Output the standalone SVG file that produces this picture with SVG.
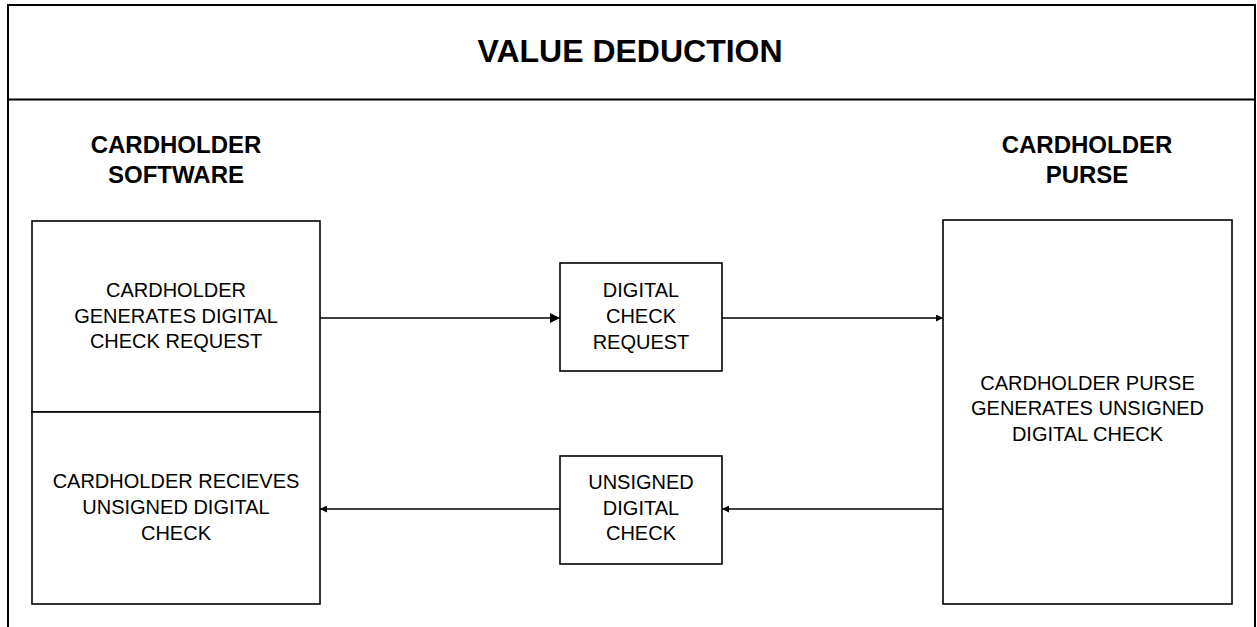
<svg xmlns="http://www.w3.org/2000/svg" width="1257" height="627" viewBox="0 0 1257 627">
<defs>
<style>
.frame{fill:none;stroke:#000;stroke-width:2}
.box{fill:#fff;stroke:#000;stroke-width:1.6}
.conn{fill:none;stroke:#000;stroke-width:1.4}
.t{font-family:"Liberation Sans",Arial,sans-serif;font-size:20px;fill:#000;text-anchor:middle}
.h{font-family:"Liberation Sans",Arial,sans-serif;font-size:24px;font-weight:bold;fill:#000;text-anchor:middle}
.title{font-family:"Liberation Sans",Arial,sans-serif;font-size:32px;font-weight:bold;fill:#000;text-anchor:middle}
</style>
<marker id="arr" viewBox="0 0 10 10" refX="10" refY="5" markerWidth="7" markerHeight="7" markerUnits="userSpaceOnUse" orient="auto">
<path d="M0,0 L10,5 L0,10 Z" fill="#000"/>
</marker>
<marker id="arrL" viewBox="0 0 10 10" refX="10" refY="5" markerWidth="10" markerHeight="10" markerUnits="userSpaceOnUse" orient="auto">
<path d="M0,0 L10,5 L0,10 Z" fill="#000"/>
</marker>
</defs>
<rect width="1257" height="627" fill="#fff"/>
<g id="frame">
<path class="frame" d="M8,640 L8,5 L1255,5 L1255,640"/>
<line class="frame" x1="8" y1="99.5" x2="1255" y2="99.5"/>
<text class="title" x="630" y="62">VALUE DEDUCTION</text>
<text class="h" x="176" y="153">CARDHOLDER</text>
<text class="h" x="176" y="183">SOFTWARE</text>
<text class="h" x="1087" y="153">CARDHOLDER</text>
<text class="h" x="1087" y="183">PURSE</text>
</g>
<g id="connectors">
<line class="conn" x1="320" y1="318" x2="560" y2="318" marker-end="url(#arrL)"/>
<line class="conn" x1="722" y1="318" x2="943" y2="318" marker-end="url(#arr)"/>
<line class="conn" x1="943" y1="509" x2="722" y2="509" marker-end="url(#arr)"/>
<line class="conn" x1="560" y1="509" x2="320" y2="509" marker-end="url(#arr)"/>
</g>
<g id="node-generate-request">
<rect class="box" x="32" y="221" width="288" height="191"/>
<text class="t" x="176" y="297">CARDHOLDER</text>
<text class="t" x="176" y="322.5">GENERATES DIGITAL</text>
<text class="t" x="176" y="348">CHECK REQUEST</text>
</g>
<g id="node-receive-check">
<rect class="box" x="32" y="412" width="288" height="192"/>
<text class="t" x="176" y="488">CARDHOLDER RECIEVES</text>
<text class="t" x="176" y="514">UNSIGNED DIGITAL</text>
<text class="t" x="176" y="540">CHECK</text>
</g>
<g id="node-digital-check-request">
<rect class="box" x="560" y="263" width="162" height="108"/>
<text class="t" x="641" y="297">DIGITAL</text>
<text class="t" x="641" y="323">CHECK</text>
<text class="t" x="641" y="349">REQUEST</text>
</g>
<g id="node-unsigned-check">
<rect class="box" x="560" y="456" width="162" height="108"/>
<text class="t" x="641" y="489">UNSIGNED</text>
<text class="t" x="641" y="515">DIGITAL</text>
<text class="t" x="641" y="540">CHECK</text>
</g>
<g id="node-purse">
<rect class="box" x="943" y="220" width="289" height="384"/>
<text class="t" x="1087.5" y="390">CARDHOLDER PURSE</text>
<text class="t" x="1087.5" y="415">GENERATES UNSIGNED</text>
<text class="t" x="1087.5" y="441">DIGITAL CHECK</text>
</g>
</svg>
